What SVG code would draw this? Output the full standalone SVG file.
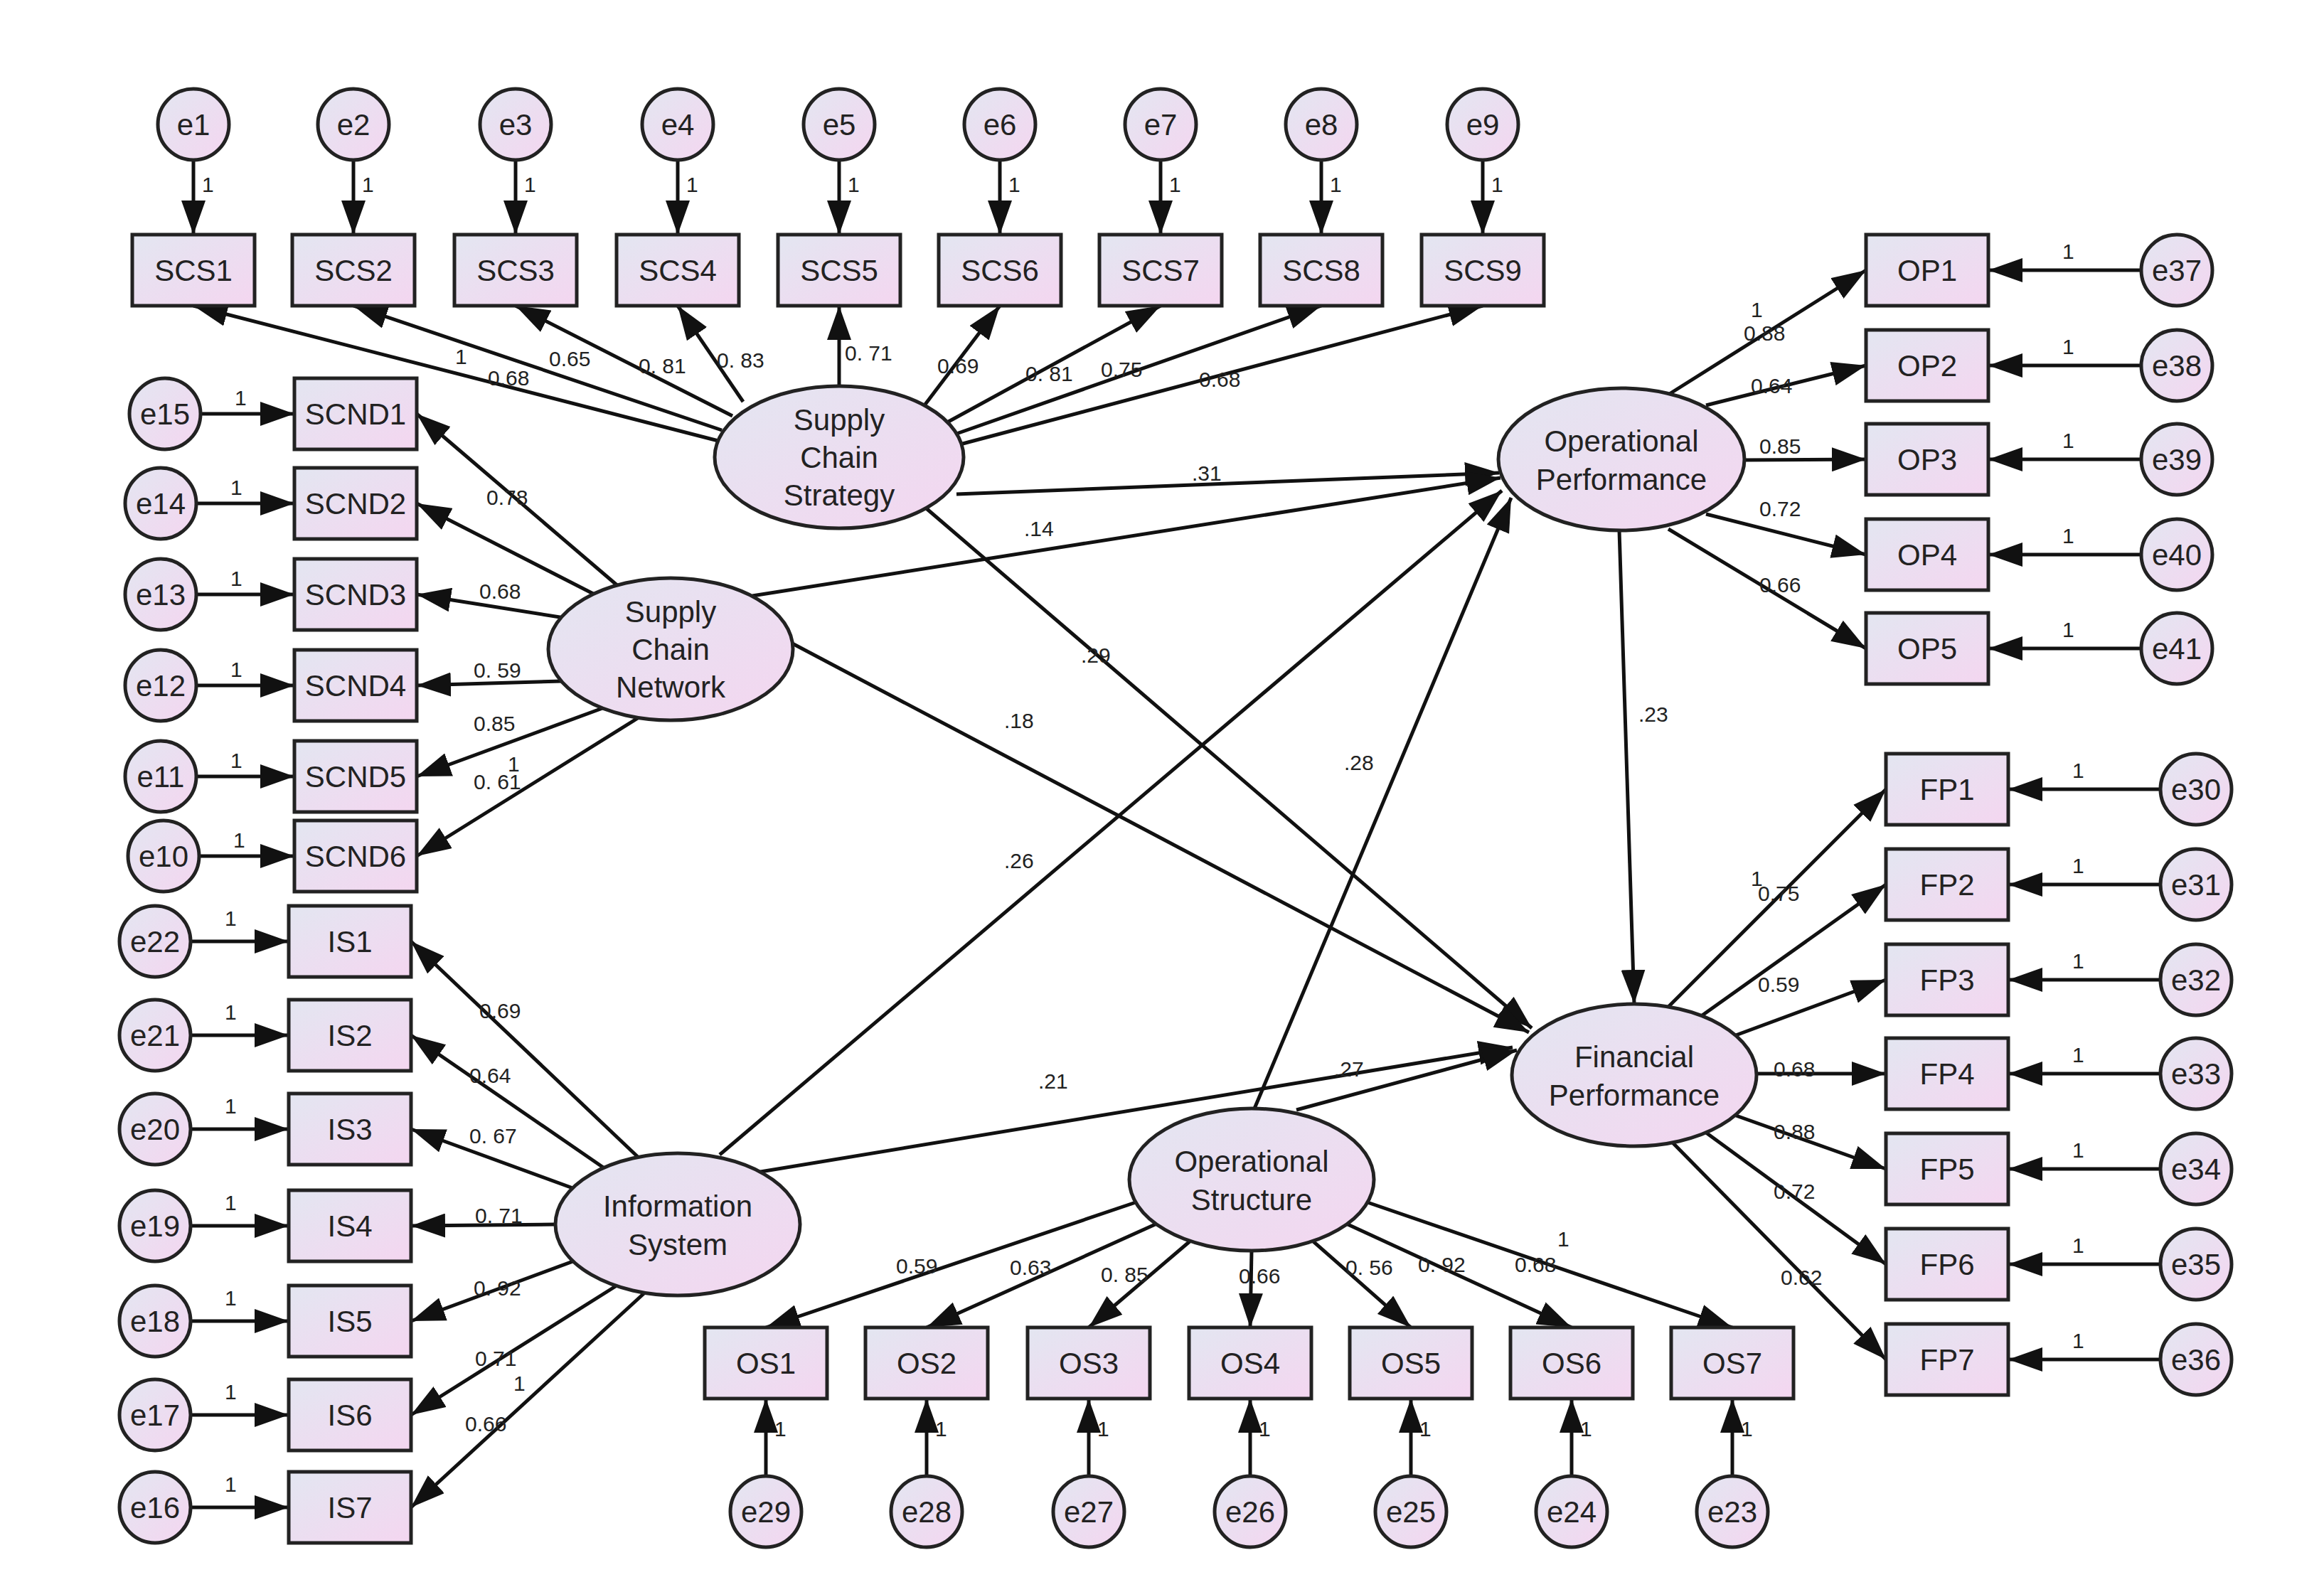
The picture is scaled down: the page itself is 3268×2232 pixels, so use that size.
<svg xmlns="http://www.w3.org/2000/svg" width="3268" height="2232" viewBox="0 0 3268 2232">
<style>
.b,.c,.l{stroke:#222;stroke-width:5;fill:url(#g)}
.t{font-family:"Liberation Sans",Arial,sans-serif;font-size:42px;fill:#222;text-anchor:middle;dominant-baseline:central}
.s{font-family:"Liberation Sans",Arial,sans-serif;font-size:30px;fill:#222}
#conn line{stroke:#111;stroke-width:5;marker-end:url(#a)}
</style>
<defs>
<linearGradient id="g" x1="0" y1="0" x2="1" y2="1"><stop offset="0" stop-color="#e3e6f1"/><stop offset="1" stop-color="#f4d6f0"/></linearGradient>
<marker id="a" markerUnits="userSpaceOnUse" markerWidth="50" markerHeight="34" refX="48" refY="17" orient="auto"><path d="M0,0 L48,17 L0,34 Z" fill="#111"/></marker>
</defs>
<rect width="3268" height="2232" fill="#fff"/>
<g id="conn">
<!-- top errors -->
<line x1="272" y1="225" x2="272" y2="330"/><line x1="497" y1="225" x2="497" y2="330"/><line x1="725" y1="225" x2="725" y2="330"/><line x1="953" y1="225" x2="953" y2="330"/><line x1="1180" y1="225" x2="1180" y2="330"/><line x1="1406" y1="225" x2="1406" y2="330"/><line x1="1632" y1="225" x2="1632" y2="330"/><line x1="1858" y1="225" x2="1858" y2="330"/><line x1="2085" y1="225" x2="2085" y2="330"/>
<!-- SCS loadings -->
<line x1="1010" y1="620" x2="272" y2="430"/><line x1="1015" y1="605" x2="497" y2="430"/><line x1="1030" y1="585" x2="725" y2="430"/><line x1="1045" y1="565" x2="953" y2="430"/><line x1="1180" y1="543" x2="1180" y2="430"/><line x1="1300" y1="570" x2="1406" y2="430"/><line x1="1330" y1="595" x2="1632" y2="430"/><line x1="1345" y1="610" x2="1858" y2="430"/><line x1="1350" y1="625" x2="2085" y2="430"/>
<!-- SCND -->
<line x1="282" y1="582" x2="414" y2="582"/><line x1="276" y1="708" x2="414" y2="708"/><line x1="276" y1="836" x2="414" y2="836"/><line x1="276" y1="964" x2="414" y2="964"/><line x1="276" y1="1092" x2="414" y2="1092"/><line x1="280" y1="1204" x2="414" y2="1204"/>
<line x1="870" y1="825" x2="586" y2="582"/><line x1="840" y1="838" x2="586" y2="708"/><line x1="800" y1="870" x2="586" y2="836"/><line x1="790" y1="958" x2="586" y2="964"/><line x1="850" y1="995" x2="586" y2="1092"/><line x1="900" y1="1008" x2="586" y2="1204"/>
<!-- IS -->
<line x1="268" y1="1324" x2="406" y2="1324"/><line x1="268" y1="1456" x2="406" y2="1456"/><line x1="268" y1="1588" x2="406" y2="1588"/><line x1="268" y1="1724" x2="406" y2="1724"/><line x1="268" y1="1858" x2="406" y2="1858"/><line x1="268" y1="1990" x2="406" y2="1990"/><line x1="268" y1="2120" x2="406" y2="2120"/>
<line x1="900" y1="1630" x2="578" y2="1324"/><line x1="860" y1="1650" x2="578" y2="1456"/><line x1="830" y1="1680" x2="578" y2="1588"/><line x1="781" y1="1722" x2="578" y2="1724"/><line x1="830" y1="1765" x2="578" y2="1858"/><line x1="880" y1="1800" x2="578" y2="1990"/><line x1="910" y1="1815" x2="578" y2="2120"/>
<!-- OS -->
<line x1="1077" y1="2076" x2="1077" y2="1967"/><line x1="1303" y1="2076" x2="1303" y2="1967"/><line x1="1531" y1="2076" x2="1531" y2="1967"/><line x1="1758" y1="2076" x2="1758" y2="1967"/><line x1="1984" y1="2076" x2="1984" y2="1967"/><line x1="2210" y1="2076" x2="2210" y2="1967"/><line x1="2436" y1="2076" x2="2436" y2="1967"/>
<line x1="1600" y1="1690" x2="1077" y2="1867"/><line x1="1640" y1="1715" x2="1303" y2="1867"/><line x1="1680" y1="1740" x2="1531" y2="1867"/><line x1="1760" y1="1759" x2="1758" y2="1867"/><line x1="1840" y1="1740" x2="1984" y2="1867"/><line x1="1880" y1="1715" x2="2210" y2="1867"/><line x1="1920" y1="1690" x2="2436" y2="1867"/>
<!-- OP -->
<line x1="3011" y1="380" x2="2796" y2="380"/><line x1="3011" y1="514" x2="2796" y2="514"/><line x1="3011" y1="646" x2="2796" y2="646"/><line x1="3011" y1="780" x2="2796" y2="780"/><line x1="3011" y1="912" x2="2796" y2="912"/>
<line x1="2346" y1="555" x2="2624" y2="380"/><line x1="2399" y1="570" x2="2624" y2="514"/><line x1="2452" y1="647" x2="2624" y2="646"/><line x1="2399" y1="723" x2="2624" y2="780"/><line x1="2346" y1="744" x2="2624" y2="912"/>
<!-- FP -->
<line x1="3038" y1="1110" x2="2824" y2="1110"/><line x1="3038" y1="1244" x2="2824" y2="1244"/><line x1="3038" y1="1378" x2="2824" y2="1378"/><line x1="3038" y1="1510" x2="2824" y2="1510"/><line x1="3038" y1="1644" x2="2824" y2="1644"/><line x1="3038" y1="1778" x2="2824" y2="1778"/><line x1="3038" y1="1912" x2="2824" y2="1912"/>
<line x1="2346" y1="1416" x2="2652" y2="1110"/><line x1="2388" y1="1432" x2="2652" y2="1244"/><line x1="2430" y1="1460" x2="2652" y2="1378"/><line x1="2470" y1="1510" x2="2652" y2="1510"/><line x1="2430" y1="1565" x2="2652" y2="1644"/><line x1="2395" y1="1590" x2="2652" y2="1778"/><line x1="2350" y1="1605" x2="2652" y2="1912"/>
<!-- structural -->
<line x1="1345" y1="695" x2="2108" y2="665"/><line x1="1058" y1="838" x2="2110" y2="672"/><line x1="1012" y1="1624" x2="2112" y2="690"/><line x1="1764" y1="1559" x2="2125" y2="700"/>
<line x1="1299" y1="712" x2="2154" y2="1446"/><line x1="1048" y1="870" x2="2150" y2="1452"/><line x1="1027" y1="1655" x2="2127" y2="1473"/><line x1="1823" y1="1561" x2="2133" y2="1477"/><line x1="2277" y1="746" x2="2298" y2="1412"/>
</g>
<g class="s">
<text x="284" y="270">1</text><text x="509" y="270">1</text><text x="737" y="270">1</text><text x="965" y="270">1</text><text x="1192" y="270">1</text><text x="1418" y="270">1</text><text x="1644" y="270">1</text><text x="1870" y="270">1</text><text x="2097" y="270">1</text>
<text x="640" y="512">1</text><text x="686" y="542">0.68</text><text x="772" y="515">0.65</text><text x="898" y="525">0. 81</text><text x="1008" y="517">0. 83</text><text x="1188" y="507">0. 71</text><text x="1318" y="525">0.69</text><text x="1442" y="536">0. 81</text><text x="1548" y="530">0.75</text><text x="1686" y="544">0.68</text>
<text x="330" y="570">1</text><text x="324" y="696">1</text><text x="324" y="824">1</text><text x="324" y="952">1</text><text x="324" y="1080">1</text><text x="328" y="1192">1</text>
<text x="684" y="710">0.78</text><text x="674" y="842">0.68</text><text x="666" y="953">0. 59</text><text x="666" y="1028">0.85</text><text x="714" y="1085">1</text><text x="666" y="1110">0. 61</text>
<text x="316" y="1302">1</text><text x="316" y="1434">1</text><text x="316" y="1566">1</text><text x="316" y="1702">1</text><text x="316" y="1836">1</text><text x="316" y="1968">1</text><text x="316" y="2098">1</text>
<text x="674" y="1432">0.69</text><text x="660" y="1523">0.64</text><text x="660" y="1608">0. 67</text><text x="668" y="1720">0. 71</text><text x="666" y="1822">0. 92</text><text x="668" y="1921">0.71</text><text x="722" y="1956">1</text><text x="654" y="2013">0.66</text>
<text x="1260" y="1791">0.59</text><text x="1420" y="1793">0.63</text><text x="1548" y="1803">0. 85</text><text x="1742" y="1805">0.66</text><text x="1892" y="1793">0. 56</text><text x="1994" y="1789">0. 92</text><text x="2190" y="1753">1</text><text x="2130" y="1789">0.68</text>
<text x="1089" y="2020">1</text><text x="1315" y="2020">1</text><text x="1543" y="2020">1</text><text x="1770" y="2020">1</text><text x="1996" y="2020">1</text><text x="2222" y="2020">1</text><text x="2448" y="2020">1</text>
<text x="2462" y="446">1</text><text x="2452" y="479">0.88</text><text x="2462" y="553">0.64</text><text x="2474" y="638">0.85</text><text x="2474" y="726">0.72</text><text x="2474" y="833">0.66</text>
<text x="2900" y="364">1</text><text x="2900" y="498">1</text><text x="2900" y="630">1</text><text x="2900" y="764">1</text><text x="2900" y="896">1</text>
<text x="2462" y="1246">1</text><text x="2472" y="1267">0.75</text><text x="2472" y="1395">0.59</text><text x="2494" y="1514">0.68</text><text x="2494" y="1602">0.88</text><text x="2494" y="1686">0.72</text><text x="2504" y="1807">0.62</text>
<text x="2914" y="1094">1</text><text x="2914" y="1228">1</text><text x="2914" y="1362">1</text><text x="2914" y="1494">1</text><text x="2914" y="1628">1</text><text x="2914" y="1762">1</text><text x="2914" y="1896">1</text>
<text x="1676" y="676">.31</text><text x="1440" y="754">.14</text><text x="1520" y="932">.29</text><text x="1412" y="1024">.18</text><text x="1412" y="1221">.26</text><text x="1460" y="1531">.21</text><text x="1890" y="1083">.28</text><text x="1876" y="1514">.27</text><text x="2304" y="1015">.23</text>
</g>
<g id="e1"><circle class="c" cx="272" cy="175" r="50"/><text class="t" x="272" y="175">e1</text></g>
<g id="e2"><circle class="c" cx="497" cy="175" r="50"/><text class="t" x="497" y="175">e2</text></g>
<g id="e3"><circle class="c" cx="725" cy="175" r="50"/><text class="t" x="725" y="175">e3</text></g>
<g id="e4"><circle class="c" cx="953" cy="175" r="50"/><text class="t" x="953" y="175">e4</text></g>
<g id="e5"><circle class="c" cx="1180" cy="175" r="50"/><text class="t" x="1180" y="175">e5</text></g>
<g id="e6"><circle class="c" cx="1406" cy="175" r="50"/><text class="t" x="1406" y="175">e6</text></g>
<g id="e7"><circle class="c" cx="1632" cy="175" r="50"/><text class="t" x="1632" y="175">e7</text></g>
<g id="e8"><circle class="c" cx="1858" cy="175" r="50"/><text class="t" x="1858" y="175">e8</text></g>
<g id="e9"><circle class="c" cx="2085" cy="175" r="50"/><text class="t" x="2085" y="175">e9</text></g>
<g id="SCS1"><rect class="b" x="186" y="330" width="172" height="100"/><text class="t" x="272" y="380">SCS1</text></g>
<g id="SCS2"><rect class="b" x="411" y="330" width="172" height="100"/><text class="t" x="497" y="380">SCS2</text></g>
<g id="SCS3"><rect class="b" x="639" y="330" width="172" height="100"/><text class="t" x="725" y="380">SCS3</text></g>
<g id="SCS4"><rect class="b" x="867" y="330" width="172" height="100"/><text class="t" x="953" y="380">SCS4</text></g>
<g id="SCS5"><rect class="b" x="1094" y="330" width="172" height="100"/><text class="t" x="1180" y="380">SCS5</text></g>
<g id="SCS6"><rect class="b" x="1320" y="330" width="172" height="100"/><text class="t" x="1406" y="380">SCS6</text></g>
<g id="SCS7"><rect class="b" x="1546" y="330" width="172" height="100"/><text class="t" x="1632" y="380">SCS7</text></g>
<g id="SCS8"><rect class="b" x="1772" y="330" width="172" height="100"/><text class="t" x="1858" y="380">SCS8</text></g>
<g id="SCS9"><rect class="b" x="1999" y="330" width="172" height="100"/><text class="t" x="2085" y="380">SCS9</text></g>
<g id="SCStrat"><ellipse class="l" cx="1180" cy="643" rx="175" ry="100"/><text class="t" x="1180" y="590">Supply</text><text class="t" x="1180" y="643">Chain</text><text class="t" x="1180" y="696">Strategy</text></g>
<g id="e15"><circle class="c" cx="232" cy="582" r="50"/><text class="t" x="232" y="582">e15</text></g>
<g id="e14"><circle class="c" cx="226" cy="708" r="50"/><text class="t" x="226" y="708">e14</text></g>
<g id="e13"><circle class="c" cx="226" cy="836" r="50"/><text class="t" x="226" y="836">e13</text></g>
<g id="e12"><circle class="c" cx="226" cy="964" r="50"/><text class="t" x="226" y="964">e12</text></g>
<g id="e11"><circle class="c" cx="226" cy="1092" r="50"/><text class="t" x="226" y="1092">e11</text></g>
<g id="e10"><circle class="c" cx="230" cy="1204" r="50"/><text class="t" x="230" y="1204">e10</text></g>
<g id="SCND1"><rect class="b" x="414" y="532" width="172" height="100"/><text class="t" x="500" y="582">SCND1</text></g>
<g id="SCND2"><rect class="b" x="414" y="658" width="172" height="100"/><text class="t" x="500" y="708">SCND2</text></g>
<g id="SCND3"><rect class="b" x="414" y="786" width="172" height="100"/><text class="t" x="500" y="836">SCND3</text></g>
<g id="SCND4"><rect class="b" x="414" y="914" width="172" height="100"/><text class="t" x="500" y="964">SCND4</text></g>
<g id="SCND5"><rect class="b" x="414" y="1042" width="172" height="100"/><text class="t" x="500" y="1092">SCND5</text></g>
<g id="SCND6"><rect class="b" x="414" y="1154" width="172" height="100"/><text class="t" x="500" y="1204">SCND6</text></g>
<g id="SCNet"><ellipse class="l" cx="943" cy="913" rx="172" ry="100"/><text class="t" x="943" y="860">Supply</text><text class="t" x="943" y="913">Chain</text><text class="t" x="943" y="966">Network</text></g>
<g id="e22"><circle class="c" cx="218" cy="1324" r="50"/><text class="t" x="218" y="1324">e22</text></g>
<g id="e21"><circle class="c" cx="218" cy="1456" r="50"/><text class="t" x="218" y="1456">e21</text></g>
<g id="e20"><circle class="c" cx="218" cy="1588" r="50"/><text class="t" x="218" y="1588">e20</text></g>
<g id="e19"><circle class="c" cx="218" cy="1724" r="50"/><text class="t" x="218" y="1724">e19</text></g>
<g id="e18"><circle class="c" cx="218" cy="1858" r="50"/><text class="t" x="218" y="1858">e18</text></g>
<g id="e17"><circle class="c" cx="218" cy="1990" r="50"/><text class="t" x="218" y="1990">e17</text></g>
<g id="e16"><circle class="c" cx="218" cy="2120" r="50"/><text class="t" x="218" y="2120">e16</text></g>
<g id="IS1"><rect class="b" x="406" y="1274" width="172" height="100"/><text class="t" x="492" y="1324">IS1</text></g>
<g id="IS2"><rect class="b" x="406" y="1406" width="172" height="100"/><text class="t" x="492" y="1456">IS2</text></g>
<g id="IS3"><rect class="b" x="406" y="1538" width="172" height="100"/><text class="t" x="492" y="1588">IS3</text></g>
<g id="IS4"><rect class="b" x="406" y="1674" width="172" height="100"/><text class="t" x="492" y="1724">IS4</text></g>
<g id="IS5"><rect class="b" x="406" y="1808" width="172" height="100"/><text class="t" x="492" y="1858">IS5</text></g>
<g id="IS6"><rect class="b" x="406" y="1940" width="172" height="100"/><text class="t" x="492" y="1990">IS6</text></g>
<g id="IS7"><rect class="b" x="406" y="2070" width="172" height="100"/><text class="t" x="492" y="2120">IS7</text></g>
<g id="InfoSys"><ellipse class="l" cx="953" cy="1722" rx="172" ry="100"/><text class="t" x="953" y="1696">Information</text><text class="t" x="953" y="1750">System</text></g>
<g id="OS1"><rect class="b" x="991" y="1867" width="172" height="100"/><text class="t" x="1077" y="1917">OS1</text></g>
<g id="OS2"><rect class="b" x="1217" y="1867" width="172" height="100"/><text class="t" x="1303" y="1917">OS2</text></g>
<g id="OS3"><rect class="b" x="1445" y="1867" width="172" height="100"/><text class="t" x="1531" y="1917">OS3</text></g>
<g id="OS4"><rect class="b" x="1672" y="1867" width="172" height="100"/><text class="t" x="1758" y="1917">OS4</text></g>
<g id="OS5"><rect class="b" x="1898" y="1867" width="172" height="100"/><text class="t" x="1984" y="1917">OS5</text></g>
<g id="OS6"><rect class="b" x="2124" y="1867" width="172" height="100"/><text class="t" x="2210" y="1917">OS6</text></g>
<g id="OS7"><rect class="b" x="2350" y="1867" width="172" height="100"/><text class="t" x="2436" y="1917">OS7</text></g>
<g id="e29"><circle class="c" cx="1077" cy="2126" r="50"/><text class="t" x="1077" y="2126">e29</text></g>
<g id="e28"><circle class="c" cx="1303" cy="2126" r="50"/><text class="t" x="1303" y="2126">e28</text></g>
<g id="e27"><circle class="c" cx="1531" cy="2126" r="50"/><text class="t" x="1531" y="2126">e27</text></g>
<g id="e26"><circle class="c" cx="1758" cy="2126" r="50"/><text class="t" x="1758" y="2126">e26</text></g>
<g id="e25"><circle class="c" cx="1984" cy="2126" r="50"/><text class="t" x="1984" y="2126">e25</text></g>
<g id="e24"><circle class="c" cx="2210" cy="2126" r="50"/><text class="t" x="2210" y="2126">e24</text></g>
<g id="e23"><circle class="c" cx="2436" cy="2126" r="50"/><text class="t" x="2436" y="2126">e23</text></g>
<g id="OpStruct"><ellipse class="l" cx="1760" cy="1659" rx="172" ry="100"/><text class="t" x="1760" y="1633">Operational</text><text class="t" x="1760" y="1687">Structure</text></g>
<g id="OpPerf"><ellipse class="l" cx="2280" cy="646" rx="173" ry="100"/><text class="t" x="2280" y="620">Operational</text><text class="t" x="2280" y="674">Performance</text></g>
<g id="OP1"><rect class="b" x="2624" y="330" width="172" height="100"/><text class="t" x="2710" y="380">OP1</text></g>
<g id="OP2"><rect class="b" x="2624" y="464" width="172" height="100"/><text class="t" x="2710" y="514">OP2</text></g>
<g id="OP3"><rect class="b" x="2624" y="596" width="172" height="100"/><text class="t" x="2710" y="646">OP3</text></g>
<g id="OP4"><rect class="b" x="2624" y="730" width="172" height="100"/><text class="t" x="2710" y="780">OP4</text></g>
<g id="OP5"><rect class="b" x="2624" y="862" width="172" height="100"/><text class="t" x="2710" y="912">OP5</text></g>
<g id="e37"><circle class="c" cx="3061" cy="380" r="50"/><text class="t" x="3061" y="380">e37</text></g>
<g id="e38"><circle class="c" cx="3061" cy="514" r="50"/><text class="t" x="3061" y="514">e38</text></g>
<g id="e39"><circle class="c" cx="3061" cy="646" r="50"/><text class="t" x="3061" y="646">e39</text></g>
<g id="e40"><circle class="c" cx="3061" cy="780" r="50"/><text class="t" x="3061" y="780">e40</text></g>
<g id="e41"><circle class="c" cx="3061" cy="912" r="50"/><text class="t" x="3061" y="912">e41</text></g>
<g id="FinPerf"><ellipse class="l" cx="2298" cy="1512" rx="172" ry="100"/><text class="t" x="2298" y="1486">Financial</text><text class="t" x="2298" y="1540">Performance</text></g>
<g id="FP1"><rect class="b" x="2652" y="1060" width="172" height="100"/><text class="t" x="2738" y="1110">FP1</text></g>
<g id="FP2"><rect class="b" x="2652" y="1194" width="172" height="100"/><text class="t" x="2738" y="1244">FP2</text></g>
<g id="FP3"><rect class="b" x="2652" y="1328" width="172" height="100"/><text class="t" x="2738" y="1378">FP3</text></g>
<g id="FP4"><rect class="b" x="2652" y="1460" width="172" height="100"/><text class="t" x="2738" y="1510">FP4</text></g>
<g id="FP5"><rect class="b" x="2652" y="1594" width="172" height="100"/><text class="t" x="2738" y="1644">FP5</text></g>
<g id="FP6"><rect class="b" x="2652" y="1728" width="172" height="100"/><text class="t" x="2738" y="1778">FP6</text></g>
<g id="FP7"><rect class="b" x="2652" y="1862" width="172" height="100"/><text class="t" x="2738" y="1912">FP7</text></g>
<g id="e30"><circle class="c" cx="3088" cy="1110" r="50"/><text class="t" x="3088" y="1110">e30</text></g>
<g id="e31"><circle class="c" cx="3088" cy="1244" r="50"/><text class="t" x="3088" y="1244">e31</text></g>
<g id="e32"><circle class="c" cx="3088" cy="1378" r="50"/><text class="t" x="3088" y="1378">e32</text></g>
<g id="e33"><circle class="c" cx="3088" cy="1510" r="50"/><text class="t" x="3088" y="1510">e33</text></g>
<g id="e34"><circle class="c" cx="3088" cy="1644" r="50"/><text class="t" x="3088" y="1644">e34</text></g>
<g id="e35"><circle class="c" cx="3088" cy="1778" r="50"/><text class="t" x="3088" y="1778">e35</text></g>
<g id="e36"><circle class="c" cx="3088" cy="1912" r="50"/><text class="t" x="3088" y="1912">e36</text></g>
</svg>
